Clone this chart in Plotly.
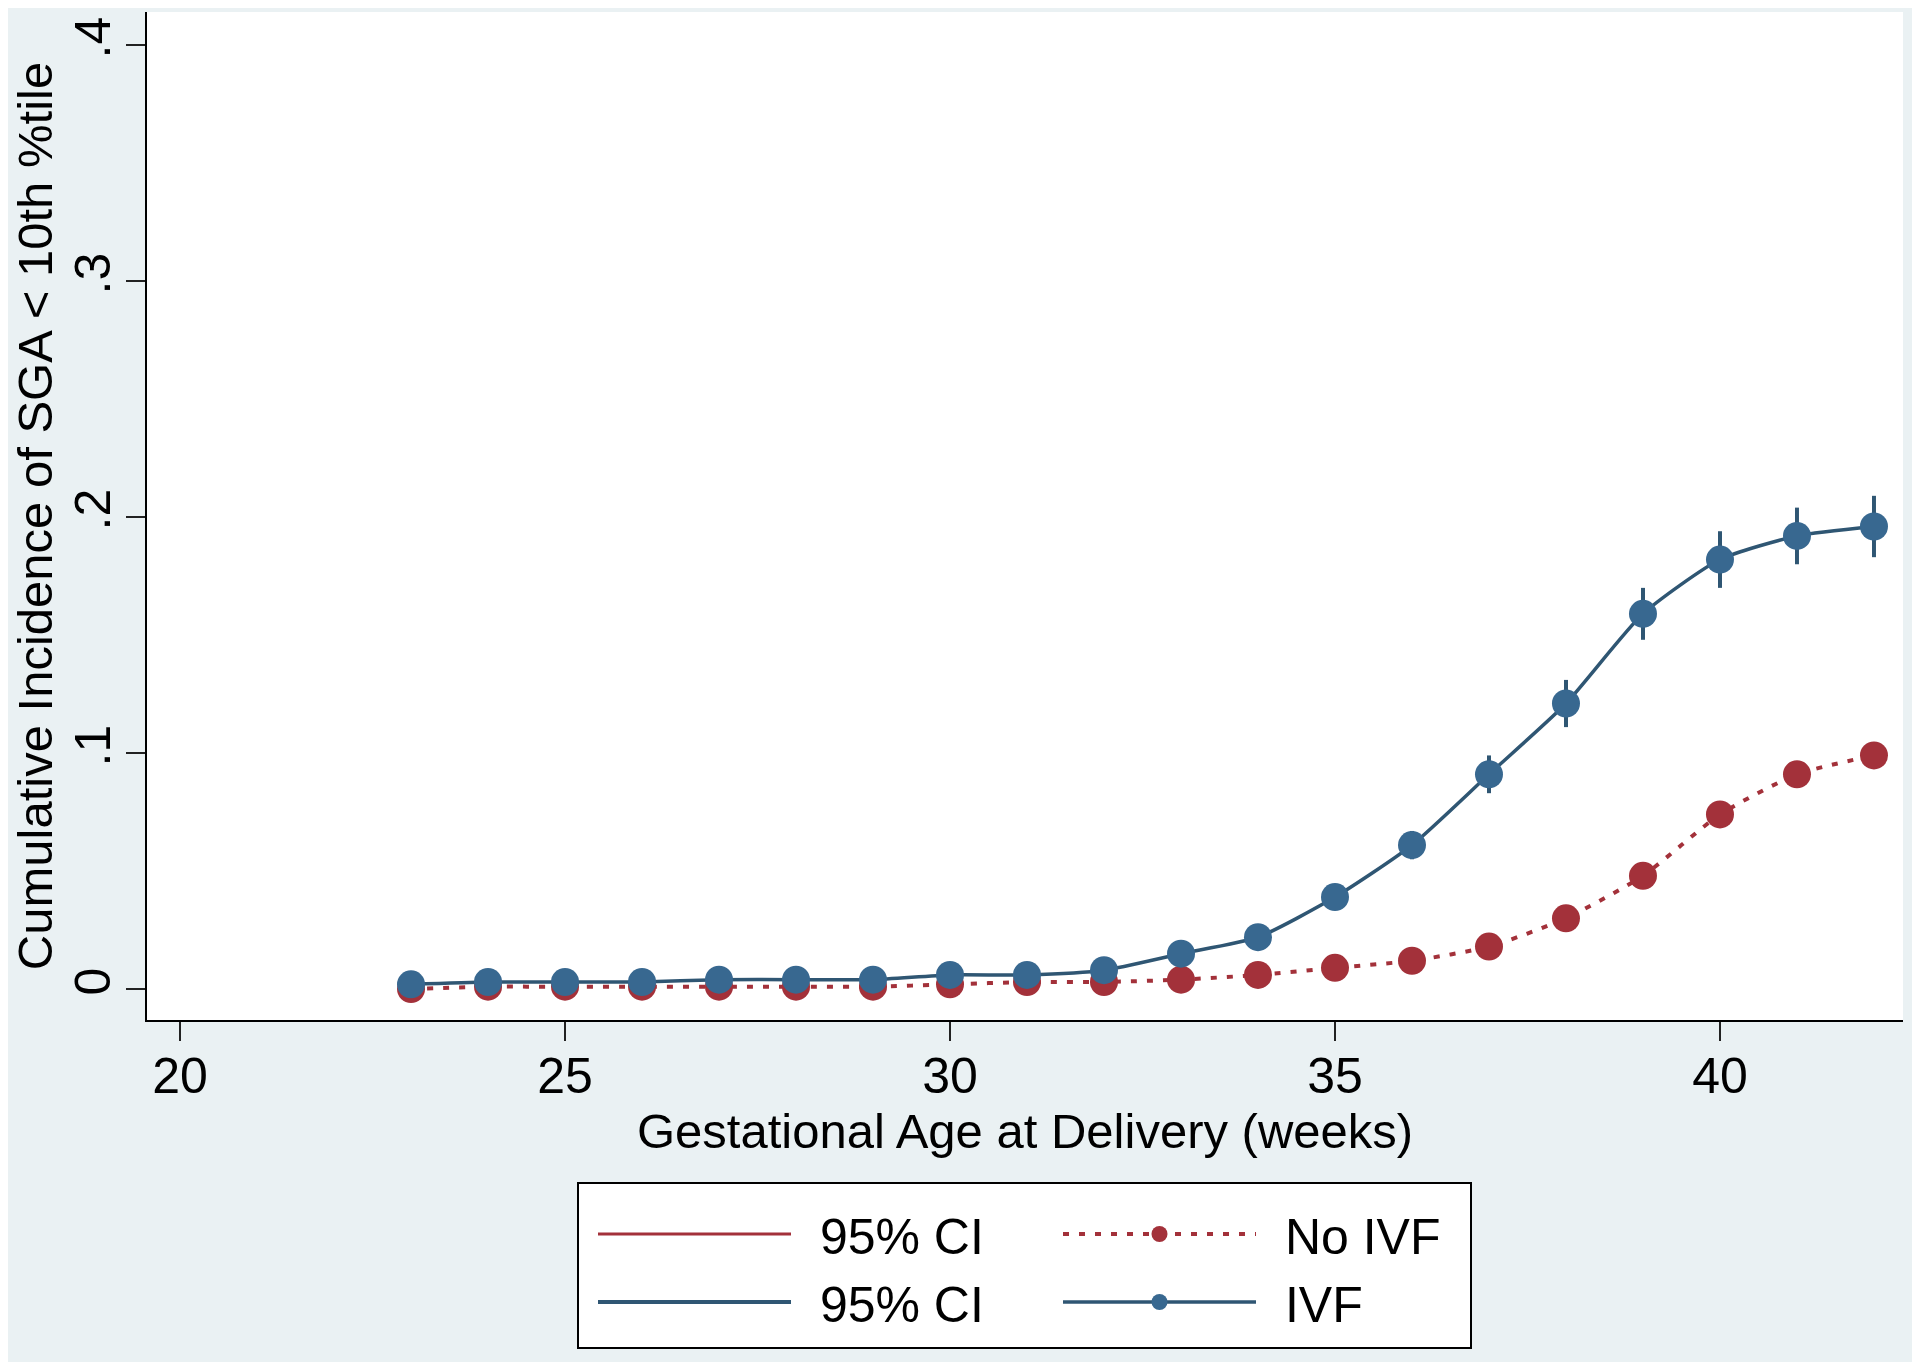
import plotly.graph_objects as go

# ---------------- data ----------------
weeks = [23, 24, 25, 26, 27, 28, 29, 30, 31, 32, 33, 34, 35, 36, 37, 38, 39, 40, 41, 42]

ivf = [0.002, 0.003, 0.003, 0.003, 0.004, 0.004, 0.004, 0.006, 0.006, 0.008,
       0.015, 0.022, 0.039, 0.061, 0.091, 0.121, 0.159, 0.182, 0.192, 0.196]
ivf_lo = [0.001, 0.002, 0.002, 0.002, 0.003, 0.003, 0.003, 0.004, 0.004, 0.006,
          0.012, 0.019, 0.035, 0.055, 0.083, 0.111, 0.148, 0.170, 0.180, 0.183]
ivf_hi = [0.003, 0.004, 0.004, 0.004, 0.005, 0.005, 0.005, 0.008, 0.008, 0.010,
          0.018, 0.025, 0.043, 0.067, 0.099, 0.131, 0.170, 0.194, 0.204, 0.209]

noivf = [0.000, 0.001, 0.001, 0.001, 0.001, 0.001, 0.001, 0.002, 0.003, 0.003,
         0.004, 0.006, 0.009, 0.012, 0.018, 0.030, 0.048, 0.074, 0.091, 0.099]
noivf_lo = [0.000, 0.000, 0.000, 0.000, 0.000, 0.000, 0.000, 0.001, 0.002, 0.002,
            0.003, 0.005, 0.008, 0.011, 0.016, 0.028, 0.045, 0.071, 0.088, 0.096]
noivf_hi = [0.001, 0.002, 0.002, 0.002, 0.002, 0.002, 0.002, 0.003, 0.004, 0.004,
            0.005, 0.007, 0.010, 0.013, 0.020, 0.032, 0.051, 0.077, 0.094, 0.102]

x_ticks = [20, 25, 30, 35, 40]
y_ticks = [0, 0.1, 0.2, 0.3, 0.4]
y_tick_text = ["0", ".1", ".2", ".3", ".4"]

x_title = "Gestational Age at Delivery (weeks)"
y_title = "Cumulative Incidence of SGA < 10th %tile"

# ---------------- style ----------------
BLUE_M = "#386890"
BLUE_L = "#2F5673"
RED = "#A3313A"
BG = "#EAF1F3"
FONT = "Liberation Sans, Arial, Helvetica, sans-serif"
FS = 50
FS_T = 49
PAD = "\u00a0\u2009"


def spikes(xs, lo, hi):
    sx, sy = [], []
    for x, a, b in zip(xs, lo, hi):
        sx += [x, x, None]
        sy += [a, b, None]
    return sx, sy


fig = go.Figure()

rx, ry = spikes(weeks, noivf_lo, noivf_hi)
fig.add_trace(go.Scatter(x=rx, y=ry, mode="lines", name=PAD + "95% CI",
                         line=dict(color=RED, width=3), legend="legend",
                         hoverinfo="skip"))
fig.add_trace(go.Scatter(x=weeks, y=noivf, mode="lines+markers", name=PAD + "No IVF",
                         line=dict(color=RED, width=4, dash="6px,10px", shape="spline", smoothing=0.6),
                         marker=dict(color=RED, size=28, line=dict(width=0)),
                         legend="legend2"))
bx, by = spikes(weeks, ivf_lo, ivf_hi)
fig.add_trace(go.Scatter(x=bx, y=by, mode="lines", name=PAD + "95% CI",
                         line=dict(color=BLUE_L, width=4), legend="legend",
                         hoverinfo="skip"))
fig.add_trace(go.Scatter(x=weeks, y=ivf, mode="lines+markers", name=PAD + "IVF",
                         line=dict(color=BLUE_L, width=3.5, shape="spline", smoothing=0.6),
                         marker=dict(color=BLUE_M, size=28, line=dict(width=0)),
                         legend="legend2"))

# page offset of the html body (8px default margin)
OFF = 8
W, H = 1920, 1362
L = 147 - OFF
T = 12 - OFF
R = W - (1903 - OFF)
B = H - (1020 - OFF)
pw = W - L - R
ph = H - T - B


def px_x(p):
    return (p - OFF - L) / pw


def px_y(p):
    return (H - B - (p - OFF)) / ph


fig.update_layout(
    width=W, height=H,
    margin=dict(l=L, r=R, t=T, b=B, autoexpand=False),
    paper_bgcolor=BG, plot_bgcolor="white",
    font=dict(family=FONT, size=FS, color="black"),
    xaxis=dict(range=[19.571, 42.377], tickvals=x_ticks, ticks="outside",
               ticklen=19, tickwidth=2, tickcolor="#222",
               showline=True, linecolor="black", linewidth=2,
               showgrid=False, zeroline=False, automargin=False,
               tickfont=dict(size=FS), ticklabelstandoff=-8,
               title=dict(text=x_title, font=dict(size=FS_T), standoff=10)),
    yaxis=dict(range=[-0.0131, 0.414], tickvals=y_ticks, ticktext=y_tick_text,
               tickangle=-90, ticks="outside", ticklen=19, tickwidth=2,
               tickcolor="#222", showline=True, linecolor="black", linewidth=2,
               showgrid=False, zeroline=False, automargin=False,
               tickfont=dict(size=FS), ticklabelstandoff=-4,
               title=dict(text=y_title, font=dict(size=FS_T), standoff=8)),
    legend=dict(x=px_x(593), y=px_y(1195), xanchor="left", yanchor="top",
                bgcolor="rgba(0,0,0,0)", borderwidth=0, itemwidth=193,
                font=dict(size=FS), tracegroupgap=0, orientation="v"),
    legend2=dict(x=px_x(1058), y=px_y(1195), xanchor="left", yanchor="top",
                 bgcolor="rgba(0,0,0,0)", borderwidth=0, itemwidth=193,
                 font=dict(size=FS), tracegroupgap=0, orientation="v"),
    shapes=[dict(type="rect", xref="paper", yref="paper",
                 x0=px_x(578), x1=px_x(1471), y0=px_y(1348), y1=px_y(1183),
                 line=dict(color="black", width=2), fillcolor="white",
                 layer="below")],
)

fig.write_html("out.html")
